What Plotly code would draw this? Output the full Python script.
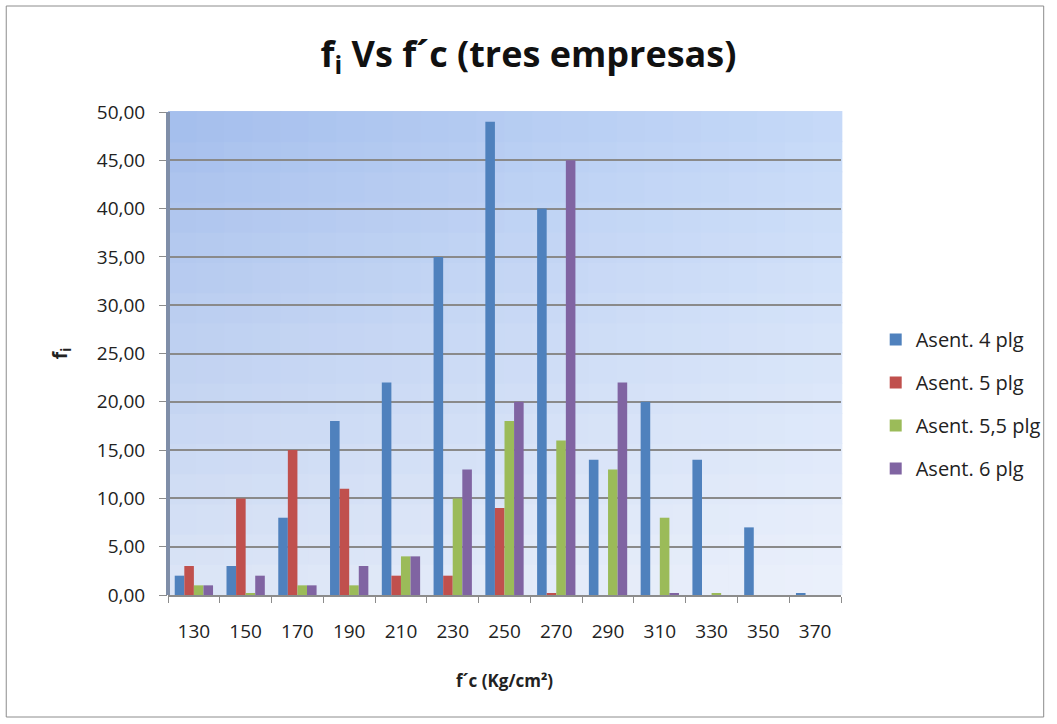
import plotly.graph_objects as go

categories = ["130", "150", "170", "190", "210", "230", "250", "270", "290", "310", "330", "350", "370"]
asent_4 = [2, 3, 8, 18, 22, 35, 49, 40, 14, 20, 14, 7, 0.2]
asent_5 = [3, 10, 15, 11, 2, 2, 9, 0.2, 0, 0, 0, 0, 0]
asent_55 = [1, 0.2, 1, 1, 4, 10, 18, 16, 13, 8, 0.2, 0, 0]
asent_6 = [1, 2, 1, 3, 4, 13, 20, 45, 22, 0.2, 0, 0, 0]
series_names = ["Asent. 4 plg", "Asent. 5 plg", "Asent. 5,5 plg", "Asent. 6 plg"]
series_values = [asent_4, asent_5, asent_55, asent_6]
colors = ["#4f81bd", "#c0504d", "#9bbb59", "#8064a2"]
y_ticks = [0, 5, 10, 15, 20, 25, 30, 35, 40, 45, 50]

FONT = "Open Sans, Liberation Sans, sans-serif"

fig = go.Figure()
for i, (name, vals) in enumerate(zip(series_names, series_values)):
    fig.add_trace(go.Bar(
        x=categories, y=vals, name=name,
        marker=dict(color=colors[i], line=dict(width=0)),
        legendgroup=name,
    ))

# background gradient (decoration)
shapes = []
nx, ny = 24, 16
tl = (163, 189, 236)
tr = (197, 217, 248)
bl = (220, 229, 246)
br = (236, 241, 251)
for ix in range(nx):
    for iy in range(ny):
        u = (ix + 0.5) / nx
        v = (iy + 0.5) / ny  # 0 bottom, 1 top
        c = []
        for k in range(3):
            top = tl[k] * (1 - u) + tr[k] * u
            bot = bl[k] * (1 - u) + br[k] * u
            c.append(int(round(bot * (1 - v) + top * v)))
        shapes.append(dict(
            type="rect", xref="x domain", yref="y domain",
            x0=ix / nx, x1=(ix + 1) / nx + 0.002, y0=iy / ny, y1=(iy + 1) / ny + 0.002,
            fillcolor="rgb(%d,%d,%d)" % tuple(c), line=dict(width=0), layer="below",
        ))
# left wall edge
shapes.append(dict(type="line", xref="x domain", yref="y domain", x0=0, x1=0, y0=0, y1=1,
                   line=dict(color="#7f8ea8", width=4), layer="above"))
# outer chart border
L, R, T, B = 168, 842, 112, 595
W, H = R - L, B - T
def px(x):
    return (x - L) / W
def py(y):
    return (B - y) / H
shapes.append(dict(type="rect", xref="paper", yref="paper",
                   x0=px(6), x1=px(1045), y0=py(717), y1=py(6),
                   line=dict(color="#8c8c8c", width=1), fillcolor="rgba(0,0,0,0)"))

fig.update_layout(
    width=1057, height=724,
    margin=dict(l=L, r=1057 - R, t=T, b=724 - B),
    paper_bgcolor="white", plot_bgcolor="rgba(0,0,0,0)",
    separators=",.",
    barmode="group", bargap=0.26, bargroupgap=0.0,
    font=dict(family=FONT, size=18, color="#222222"),
    title=dict(text="<b>f<sub>i</sub> Vs f´c (tres empresas)</b>", x=0.5, xref="container",
               y=0.925, yref="container", xanchor="center", yanchor="middle",
               font=dict(size=36, color="#111111", family=FONT)),
    legend=dict(x=1.05, y=py(404), xanchor="left", yanchor="middle",
                font=dict(size=20, color="#222222", family=FONT),
                tracegroupgap=14, bgcolor="rgba(0,0,0,0)"),
    shapes=shapes,
    xaxis=dict(type="category", tickson="boundaries", ticks="outside", ticklen=6,
               tickcolor="#8c8c8c", showline=True, linecolor="#8c8c8c", linewidth=2,
               showgrid=False, tickfont=dict(size=19), ticklabelstandoff=18,
               title=dict(text="<b>f´c (Kg/cm²)</b>", font=dict(size=17), standoff=32)),
    yaxis=dict(range=[0, 50], tickvals=y_ticks, tickformat=".2f", ticks="outside", ticklen=8,
               tickcolor="#8c8c8c", showline=False, showgrid=True, gridcolor="#8a8a8a",
               gridwidth=2, zeroline=False, tickfont=dict(size=19), ticklabelstandoff=10,
               title=dict(text="<b>f<sub>i</sub></b>", font=dict(size=19), standoff=24)),
)

fig.write_html("out.html")
